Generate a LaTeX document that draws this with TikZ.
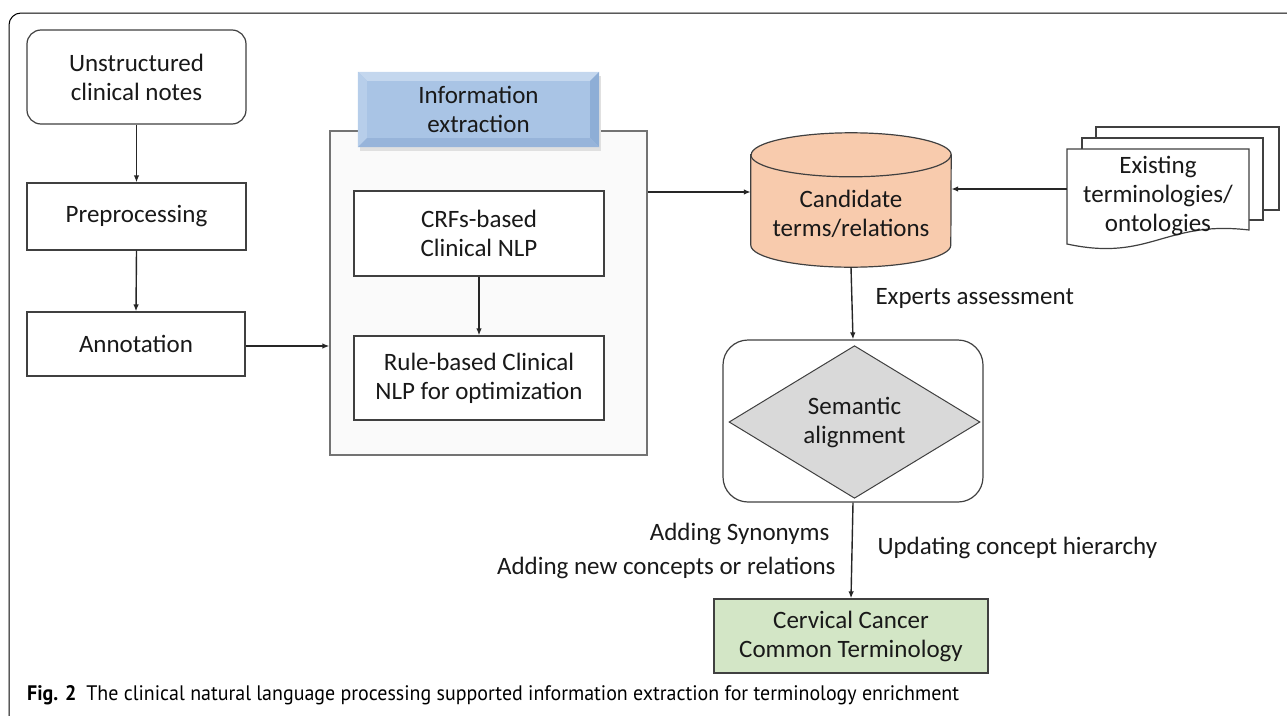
\documentclass[tikz,border=0pt]{standalone}
\usepackage{fontspec}
\setmainfont{Carlito}
\newfontfamily\capfont[FakeStretch=0.95]{PT Sans}
\usetikzlibrary{shapes.geometric,arrows.meta,calc}
\definecolor{cylfill}{HTML}{F8CBAD}
\definecolor{greenfill}{HTML}{D3E6C6}
\definecolor{blueface}{HTML}{A9C4E5}
\definecolor{bluelight}{HTML}{C4D7EE}
\definecolor{bluemid}{HTML}{B7CEEA}
\definecolor{bluedark}{HTML}{8EAED6}
\definecolor{bluedark2}{HTML}{97B4DA}
\definecolor{diafill}{HTML}{D9D9D9}
\definecolor{edge}{HTML}{404040}
\tikzset{
  txt/.style={font=\fontsize{25}{29}\selectfont, align=center, text=black!90},
  box/.style={txt, draw=edge, line width=1.2pt, fill=white, inner sep=0pt},
  arr/.style={-{Latex[length=7pt,width=5.5pt]}, line width=1.4pt, draw=black!85},
  thickarr/.style={arr, line width=2.2pt},
  lbl/.style={txt},
  docshape/.style={fill=white, draw=edge, line width=1.2pt},
}
\begin{document}
\begin{tikzpicture}[x=1pt,y=-1pt]
\useasboundingbox (0,0) rectangle (1287,715);
% outer frame
\draw[line width=1pt, rounded corners=12pt] (9,716) -- (9,13) -- (1290,13);

% left column
\node[box, rounded corners=14pt, minimum width=219pt, minimum height=94pt] (un) at (136.5,77) {Unstructured\\clinical notes};
\node[box, minimum width=219pt, minimum height=67pt] (pre) at (136.5,216.5) {Preprocessing};
\node[box, minimum width=218pt, minimum height=64pt] (ann) at (136,344) {Annotation};

% information extraction container
\node[draw=black!55, line width=1.2pt, fill=black!2, minimum width=317pt, minimum height=324pt, inner sep=0pt] (iebox) at (488.5,293) {};
% header shadow
\fill[black!12] (360,76) rectangle (601,151);
\node[txt, fill=blueface, minimum width=241pt, minimum height=75pt, inner sep=0pt] (iehead) at (478.5,109.5) {};
\fill[bluelight] (iehead.north west) -- (iehead.north east) -- ([xshift=-9pt,yshift=-9pt]iehead.north east) -- ([xshift=9pt,yshift=-9pt]iehead.north west) -- cycle;
\fill[bluemid] (iehead.north west) -- ([xshift=9pt,yshift=-9pt]iehead.north west) -- ([xshift=9pt,yshift=9pt]iehead.south west) -- (iehead.south west) -- cycle;
\fill[bluedark] (iehead.north east) -- ([xshift=-9pt,yshift=-9pt]iehead.north east) -- ([xshift=-9pt,yshift=9pt]iehead.south east) -- (iehead.south east) -- cycle;
\fill[bluedark2] (iehead.south west) -- ([xshift=9pt,yshift=9pt]iehead.south west) -- ([xshift=-9pt,yshift=9pt]iehead.south east) -- (iehead.south east) -- cycle;
\node[txt] (ietext) at (iehead.center) {Information\\extraction};

\node[box, minimum width=250pt, minimum height=85pt] (crf) at (479,233.5) {CRFs-based\\Clinical NLP};
\node[box, minimum width=250pt, minimum height=84pt] (rule) at (479,378) {Rule-based Clinical\\NLP for optimization};

% cylinder
\node[minimum width=200pt, minimum height=134pt, inner sep=0pt] (cyl) at (851,200) {};
\path[fill=cylfill, draw=edge, line width=1.2pt]
  ([yshift=-22pt]cyl.north west) -- ([yshift=22pt]cyl.south west)
  arc[start angle=180, end angle=360, x radius=100pt, y radius=22pt]
  -- ([yshift=-22pt]cyl.north east)
  arc[start angle=0, end angle=180, x radius=100pt, y radius=22pt] -- cycle;
\draw[edge, line width=1.2pt] ([yshift=-22pt]cyl.north west)
  arc[start angle=180, end angle=360, x radius=100pt, y radius=22pt];
\node[txt] (cyltext) at (851,214) {Candidate\\terms/relations};

% documents
\draw[docshape] (1096,127) rectangle (1279,210);
\draw[docshape] (1082,138) rectangle (1263,220);
\draw[docshape] (1067,149) -- (1249,149) -- (1249,230)
  .. controls (1165,220) and (1150,262) .. (1067,244) -- cycle;
\node[txt, inner sep=0pt, minimum width=182pt] (doc) at (1158,196) {Existing\\terminologies/\\ontologies};
\coordinate (docw) at (1067,189);

% semantic alignment
\node[draw=edge, line width=1.2pt, rounded corners=25pt, minimum width=260pt, minimum height=162pt, inner sep=0pt] (sabox) at (853,421) {};
\node[txt, shape=diamond, draw=edge, line width=1pt, fill=diafill, minimum width=251pt, minimum height=151pt, inner sep=0pt] (sa) at (854.5,422) {Semantic\\alignment};

% final box
\node[box, fill=greenfill, minimum width=274pt, minimum height=74pt] (cc) at (851,636) {Cervical Cancer\\Common Terminology};

% connectors
\draw[arr] (un.south) -- (pre.north);
\draw[arr] (pre.south) -- (ann.north);
\draw[thickarr] ([yshift=-2pt]ann.east) -- ([yshift=-2pt]iebox.west |- ann.east);
\draw[arr] (crf.south) -- (rule.north);
\draw[thickarr] (iebox.east |- 0,192) -- (cyl.west |- 0,192);
\draw[thickarr, line width=2.6pt] (docw) -- (cyl.east |- docw);
\draw[arr] (cyl.south) -- (sabox.north);
\draw[arr] (sabox.south) -- (cc.north);

% labels
\node[lbl, anchor=west] (l1) at (872,298) {Experts assessment};
\node[lbl, anchor=east] (l2) at (833,534) {Adding Synonyms};
\node[lbl, anchor=east] (l3) at (839,568) {Adding new concepts or relations};
\node[lbl, anchor=west] (l4) at (874,548) {Updating concept hierarchy};

% caption
\node[anchor=west, inner sep=0pt, font=\capfont\fontsize{21}{24}\selectfont] (cap) at (27,695)
  {\textbf{Fig. 2}\hspace{10pt}The clinical natural language processing supported information extraction for terminology enrichment};
\end{tikzpicture}
\end{document}
